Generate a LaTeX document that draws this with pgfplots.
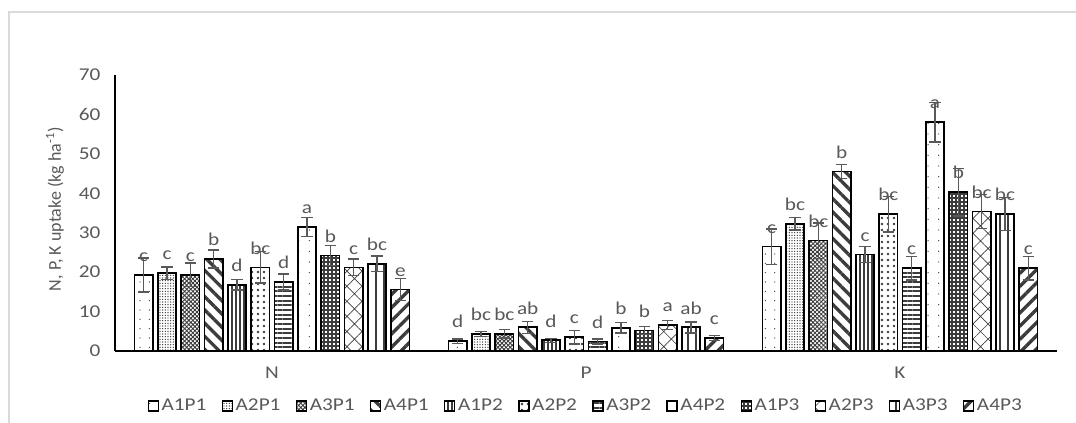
\documentclass[border=0pt]{standalone}
\usepackage{fontspec}
\setmainfont{Carlito}[FakeStretch=1.18]
\newfontfamily\ylabfont{Carlito}
\usepackage{pgfplots}
\pgfplotsset{compat=1.18}
\usetikzlibrary{patterns.meta}
\definecolor{txt}{HTML}{595959}
\definecolor{pat}{HTML}{3C3C3C}
\definecolor{framec}{HTML}{D9D9D9}

\begin{document}
\begin{tikzpicture}
\useasboundingbox (-86.25pt,-53.25pt) rectangle (720.75pt,263.25pt);
\begin{axis}[
  at={(0pt,0pt)}, anchor=south west,
  scale only axis, width=706.5pt, height=207pt,
  xmin=-0.5, xmax=2.5, ymin=0, ymax=70,
  axis x line=bottom, axis y line=left,
  axis line style={-, line width=1.6pt, black},
  xtick={0,1,2}, xticklabels={N,P,K},
  ytick={0,10,...,70},
  major tick length=0pt,
  /pgf/number format/assume math mode=true,
  ticklabel style={font=\fontsize{13.5}{16}\selectfont, text=txt},
  yticklabel style={xshift=-7.5pt},
  xticklabel style={yshift=-8.5pt},
  ylabel={\ylabfont N, P, K uptake (kg ha\textsuperscript{-1})},
  ylabel style={font=\fontsize{13.5}{16}\selectfont, text=txt, at={(axis description cs:-0.0637,0.514)}, anchor=center},
  ybar=3.6pt, bar width=13.9pt,
  error bars/y dir=both, error bars/y explicit,
  error bars/error bar style={line width=1.1pt, txt},
  error bars/error mark options={rotate=90, mark size=4.2pt, line width=1.1pt, txt},
  point meta=explicit symbolic,
  nodes near coords,
  every node near coord/.append style={font=\fontsize{13.5}{16}\selectfont, text=txt, anchor=base, yshift=10pt},
  legend columns=12,
  legend style={draw=none, at={(0.5,-0.1993)}, anchor=center, font=\fontsize{13.5}{16}\selectfont, text=txt, /tikz/every even column/.append style={column sep=9.5pt}},
  legend image code/.code={\draw[#1, line width=1pt] (0pt,-3.75pt) rectangle (7.5pt,3.75pt);},
]
% A1P1
\addplot[draw=black, line width=1.3pt, pattern={Dots[distance=7pt, radius=0.5pt]}, pattern color=pat]
 table[x=x,y=y,y error=e,meta=l,row sep=\\] {x y e l\\ 0 19.3 4.3 c\\ 1 2.5 0.6 d\\ 2 26.5 4.5 c\\};
% A2P1
\addplot[draw=black, line width=1.3pt, pattern={Dots[distance=2pt, radius=0.55pt]}, pattern color=pat]
 table[x=x,y=y,y error=e,meta=l,row sep=\\] {x y e l\\ 0 19.7 1.6 c\\ 1 4.3 0.6 bc\\ 2 32.3 1.6 bc\\};
% A3P1
\addplot[draw=black, line width=1.3pt, pattern={Hatch[angle=45, distance=2.2pt, line width=0.7pt]}, pattern color=pat]
 table[x=x,y=y,y error=e,meta=l,row sep=\\] {x y e l\\ 0 19.3 3.0 c\\ 1 4.4 1.1 bc\\ 2 28.0 4.5 bc\\};
% A4P1
\addplot[draw=black, line width=1.3pt, pattern={Lines[angle=-45, distance=7pt, line width=2.5pt]}, pattern color=pat]
 table[x=x,y=y,y error=e,meta=l,row sep=\\] {x y e l\\ 0 23.3 2.3 b\\ 1 6.0 1.5 ab\\ 2 45.5 1.8 b\\};
% A1P2
\addplot[draw=black, line width=1.3pt, pattern={Lines[angle=90, distance=3pt, line width=1pt]}, pattern color=pat]
 table[x=x,y=y,y error=e,meta=l,row sep=\\] {x y e l\\ 0 16.8 1.3 d\\ 1 2.7 0.5 d\\ 2 24.5 2.0 c\\};
% A2P2
\addplot[draw=black, line width=1.3pt, pattern={Dots[distance=4.5pt, radius=1.1pt]}, pattern color=pat]
 table[x=x,y=y,y error=e,meta=l,row sep=\\] {x y e l\\ 0 21.2 4.0 bc\\ 1 3.5 1.7 c\\ 2 34.7 4.5 bc\\};
% A3P2
\addplot[draw=black, line width=1.3pt, pattern={Lines[angle=0, distance=3.5pt, line width=1.3pt]}, pattern color=pat]
 table[x=x,y=y,y error=e,meta=l,row sep=\\] {x y e l\\ 0 17.5 2.0 d\\ 1 2.4 0.6 d\\ 2 21.0 3.0 c\\};
% A4P2
\addplot[draw=black, line width=1.3pt, pattern={Dots[distance=8pt, radius=0.5pt]}, pattern color=pat]
 table[x=x,y=y,y error=e,meta=l,row sep=\\] {x y e l\\ 0 31.5 2.4 a\\ 1 5.9 1.3 b\\ 2 58.0 5.0 a\\};
% A1P3
\addplot[draw=black, line width=1.3pt, pattern={Hatch[angle=0, distance=3pt, line width=1.6pt]}, pattern color=pat]
 table[x=x,y=y,y error=e,meta=l,row sep=\\] {x y e l\\ 0 24.2 2.5 b\\ 1 5.2 1.0 b\\ 2 40.3 6.0 b\\};
% A2P3
\addplot[draw=black, line width=1.3pt, pattern={Hatch[angle=45, distance=8pt, line width=0.5pt]}, pattern color=pat]
 table[x=x,y=y,y error=e,meta=l,row sep=\\] {x y e l\\ 0 21.2 2.1 c\\ 1 6.6 1.1 a\\ 2 35.4 4.3 bc\\};
% A3P3
\addplot[draw=black, line width=1.3pt, pattern={Lines[angle=90, distance=6pt, line width=0.8pt]}, pattern color=pat]
 table[x=x,y=y,y error=e,meta=l,row sep=\\] {x y e l\\ 0 22.1 2.0 bc\\ 1 6.0 1.4 ab\\ 2 34.7 4.2 bc\\};
% A4P3
\addplot[draw=black, line width=1.3pt, pattern={Lines[angle=45, distance=7pt, line width=2.5pt]}, pattern color=pat]
 table[x=x,y=y,y error=e,meta=l,row sep=\\] {x y e l\\ 0 15.6 2.8 e\\ 1 3.3 0.6 c\\ 2 21.0 3.0 c\\};
\legend{A1P1,A2P1,A3P1,A4P1,A1P2,A2P2,A3P2,A4P2,A1P3,A2P3,A3P3,A4P3}
\end{axis}
\draw[framec, line width=1.2pt] (-79.5pt,-80pt) -- (-79.5pt,254.25pt) -- (740pt,254.25pt);
\end{tikzpicture}
\end{document}
